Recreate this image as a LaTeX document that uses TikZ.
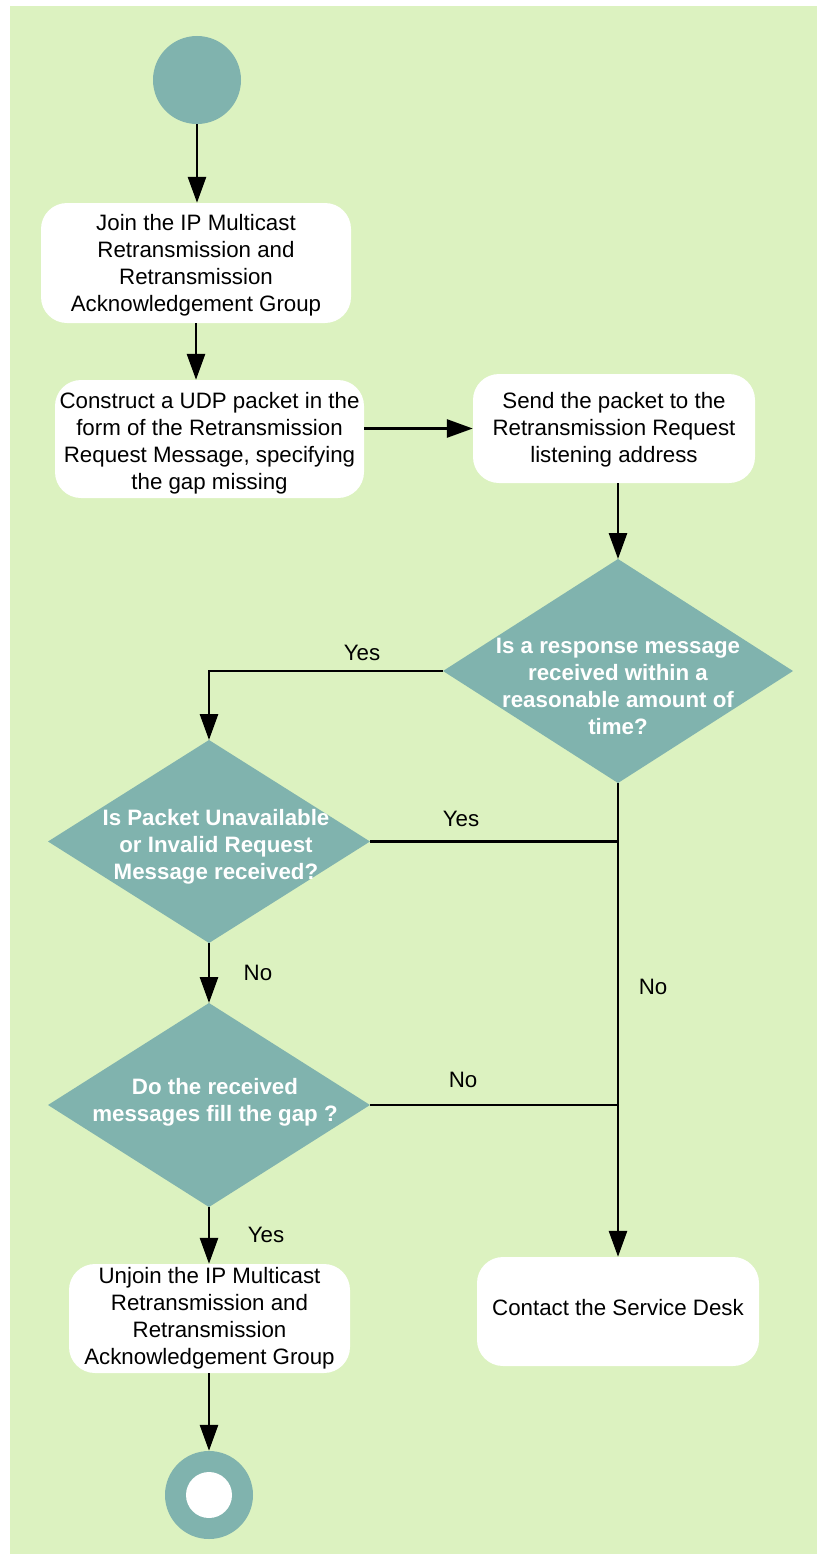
\documentclass[tikz,border=0pt]{standalone}
\usepackage{fontspec}
\setmainfont{Liberation Sans}
\usetikzlibrary{shapes.geometric,arrows.meta}
\definecolor{bgg}{RGB}{220,242,192}
\definecolor{tealfill}{RGB}{128,179,174}
\begin{document}
\begin{tikzpicture}[x=1pt,y=-1pt,
  font=\fontsize{22.3}{27}\selectfont,
  box/.style={rectangle, rounded corners=26pt, fill=white, align=center, inner sep=0pt},
  dia/.style={diamond, fill=tealfill, inner sep=0pt, outer sep=0pt},
  diatext/.style={text=white, font=\bfseries\fontsize{22.3}{27}\selectfont, align=center, inner sep=0pt},
  boxtext/.style={align=center, inner sep=0pt},
  arr/.style={line width=2.8pt, -{Triangle[length=26pt,width=18pt]}},
  ln/.style={line width=2.8pt},
  lbl/.style={inner sep=0pt}]
\useasboundingbox (0,0) rectangle (818,1555);
\fill[bgg] (10,6) rectangle (817,1554);

% start
\node[circle, fill=tealfill, minimum size=88pt, inner sep=0pt] (start) at (197,80) {};
% boxes
\node[box, minimum width=310pt, minimum height=120pt] (join) at (196,263) {};
\node[boxtext] (joint) at (196,265) {Join the IP Multicast\\Retransmission and\\Retransmission\\Acknowledgement Group};
\node[box, minimum width=309pt, minimum height=118pt] (construct) at (209.5,439) {};
\node[boxtext] (constructt) at (209.5,443) {Construct a UDP packet in the\\form of the Retransmission\\Request Message, specifying\\the gap missing};
\node[box, minimum width=282pt, minimum height=109pt] (send) at (614,428.5) {};
\node[boxtext] (sendt) at (614,430) {Send the packet to the\\Retransmission Request\\listening address};
% diamonds
\node[dia, minimum width=350pt, minimum height=224pt] (d1) at (618,671) {};
\node[diatext] (d1t) at (618,686) {Is a response message\\received within a\\reasonable amount of\\time?};
\node[dia, minimum width=322pt, minimum height=203pt] (d2) at (209,841.5) {};
\node[diatext] (d2t) at (216,847) {Is Packet Unavailable\\or Invalid Request\\Message received?};
\node[dia, minimum width=322pt, minimum height=204pt] (d3) at (209,1105) {};
\node[diatext] (d3t) at (215,1102) {Do the received\\messages fill the gap ?};
% final boxes
\node[box, minimum width=281pt, minimum height=109pt] (unjoin) at (209.5,1318.5) {};
\node[boxtext] (unjoint) at (209.5,1318) {Unjoin the IP Multicast\\Retransmission and\\Retransmission\\Acknowledgement Group};
\node[box, minimum width=282pt, minimum height=109pt] (contact) at (618,1311.5) {};
\node[boxtext] (contactt) at (618,1308) {Contact the Service Desk};
% end
\node[circle, fill=tealfill, minimum size=88pt, inner sep=0pt] (end) at (209,1495) {};
\node[circle, fill=white, minimum size=46pt, inner sep=0pt] (endin) at (end) {};

% connectors
\draw[arr] (start.south) -- (start.south |- join.north);
\draw[arr] (join.south) -- (join.south |- construct.north);
\draw[arr] (construct.east |- send.west) -- (send.west);
\draw[arr] (send.south -| d1.north) -- (d1.north);
\draw[arr] (d1.west) -| (d2.north);
\draw[ln] (d2.east) -- (d2.east -| d1.south);
\draw[arr] (d1.south) -- (contact.north);
\draw[arr] (d2.south) -- (d3.north);
\draw[ln] (d3.east) -- (d3.east -| d1.south);
\draw[arr] (d3.south) -- (d3.south |- unjoin.north);
\draw[arr] (unjoin.south -| end.north) -- (end.north);

% labels
\node[lbl] (l1) at (362,653) {Yes};
\node[lbl] (l2) at (461,819) {Yes};
\node[lbl] (l3) at (653,987) {No};
\node[lbl] (l4) at (258,973) {No};
\node[lbl] (l5) at (463,1080) {No};
\node[lbl] (l6) at (266,1235) {Yes};
\end{tikzpicture}
\end{document}
